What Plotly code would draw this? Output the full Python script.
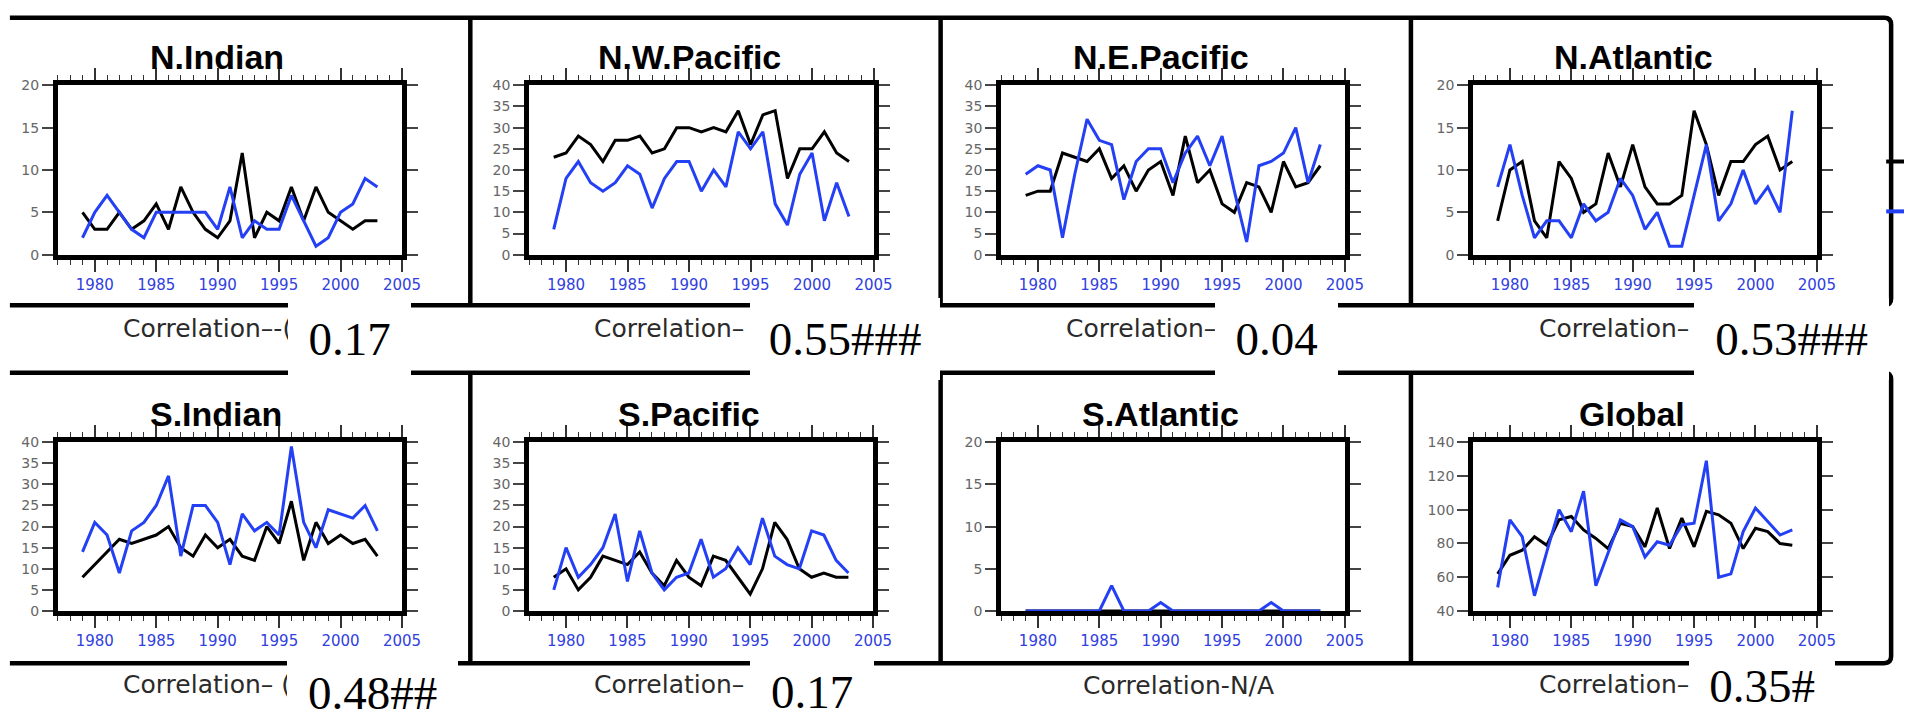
import plotly.graph_objects as go

# ---------------- data ----------------
years = [1979, 1980, 1981, 1982, 1983, 1984, 1985, 1986, 1987, 1988, 1989, 1990,
         1991, 1992, 1993, 1994, 1995, 1996, 1997, 1998, 1999, 2000, 2001, 2002, 2003]

panel_names = ["N.Indian", "N.W.Pacific", "N.E.Pacific", "N.Atlantic",
               "S.Indian", "S.Pacific", "S.Atlantic", "Global"]

n_indian_black = [5, 3, 3, 5, 3, 4, 6, 3, 8, 5, 3, 2, 4, 12, 2, 5, 4, 8, 4, 8, 5, 4, 3, 4, 4]
n_indian_blue = [2, 5, 7, 5, 3, 2, 5, 5, 5, 5, 5, 3, 8, 2, 4, 3, 3, 7, 4, 1, 2, 5, 6, 9, 8]

nw_pacific_black = [23, 24, 28, 26, 22, 27, 27, 28, 24, 25, 30, 30, 29, 30, 29, 34, 26, 33, 34, 18, 25, 25, 29, 24, 22]
nw_pacific_blue = [6, 18, 22, 17, 15, 17, 21, 19, 11, 18, 22, 22, 15, 20, 16, 29, 25, 29, 12, 7, 19, 24, 8, 17, 9]

ne_pacific_black = [14, 15, 15, 24, 23, 22, 25, 18, 21, 15, 20, 22, 14, 28, 17, 20, 12, 10, 17, 16, 10, 22, 16, 17, 21]
ne_pacific_blue = [19, 21, 20, 4, 19, 32, 27, 26, 13, 22, 25, 25, 17, 24, 28, 21, 28, 15, 3, 21, 22, 24, 30, 17, 26]

n_atlantic_black = [4, 10, 11, 4, 2, 11, 9, 5, 6, 12, 8, 13, 8, 6, 6, 7, 17, 13, 7, 11, 11, 13, 14, 10, 11]
n_atlantic_blue = [8, 13, 7, 2, 4, 4, 2, 6, 4, 5, 9, 7, 3, 5, 1, 1, 7, 13, 4, 6, 10, 6, 8, 5, 17]

s_indian_black = [8, 11, 14, 17, 16, 17, 18, 20, 15, 13, 18, 15, 17, 13, 12, 20, 16, 26, 12, 21, 16, 18, 16, 17, 13]
s_indian_blue = [14, 21, 18, 9, 19, 21, 25, 32, 13, 25, 25, 21, 11, 23, 19, 21, 18, 39, 21, 15, 24, 23, 22, 25, 19]

s_pacific_black = [8, 10, 5, 8, 13, 12, 11, 14, 9, 6, 12, 8, 6, 13, 12, 8, 4, 10, 21, 17, 10, 8, 9, 8, 8]
s_pacific_blue = [5, 15, 8, 11, 15, 23, 7, 19, 9, 5, 8, 9, 17, 8, 10, 15, 11, 22, 13, 11, 10, 19, 18, 12, 9]

s_atlantic_black = [0, 0, 0, 0, 0, 0, 0, 0, 0, 0, 0, 0, 0, 0, 0, 0, 0, 0, 0, 0, 0, 0, 0, 0, 0]
s_atlantic_blue = [0, 0, 0, 0, 0, 0, 0, 3, 0, 0, 0, 1, 0, 0, 0, 0, 0, 0, 0, 0, 1, 0, 0, 0, 0]

global_black = [62, 73, 76, 84, 79, 94, 96, 88, 83, 77, 92, 90, 78, 101, 77, 95, 78, 99, 97, 92, 77, 89, 87, 80, 79]
global_blue = [54, 94, 84, 49, 75, 100, 87, 111, 55, 75, 94, 90, 72, 81, 79, 91, 92, 129, 60, 62, 87, 101, 93, 85, 88]

y_ranges = [[0, 20], [0, 40], [0, 40], [0, 20], [0, 40], [0, 40], [0, 20], [40, 140]]
y_dticks = [5, 5, 5, 5, 5, 5, 5, 20]
x_ticks = [1980, 1985, 1990, 1995, 2000, 2005]

corr_labels = ["Correlation\u2013-(", "Correlation\u2013", "Correlation\u2013", "Correlation\u2013",
               "Correlation\u2013 (", "Correlation\u2013", "Correlation-N/A", "Correlation\u2013"]
corr_values = ["0.17", "0.55###", "0.04", "0.53###", "0.48##", "0.17", None, "0.35#"]

black_series = [n_indian_black, nw_pacific_black, ne_pacific_black, n_atlantic_black,
                s_indian_black, s_pacific_black, s_atlantic_black, global_black]
blue_series = [n_indian_blue, nw_pacific_blue, ne_pacific_blue, n_atlantic_blue,
               s_indian_blue, s_pacific_blue, s_atlantic_blue, global_blue]

# ---------------- layout helpers (pixel -> paper) ----------------
W, H = 1923, 721


def fx(x):
    return x / W


def fy(y):
    return 1 - y / H


# plot frames (pixels): x-left, x-right, y-top, y-bottom
frames = [(58.5, 406, 79, 252.3), (534.4, 882.3, 79, 252.3), (1011.1, 1358.3, 79, 252.3), (1487.8, 1835, 79, 252.3),
          (58.5, 406, 444, 616.7), (534.5, 881.7, 444, 616.7), (1011.1, 1358.3, 444, 616.7), (1487.8, 1835, 444, 616.7)]
title_pos = [(219, 50), (696, 50), (1173, 50), (1650, 50),
             (218, 415), (696, 415), (1172, 415), (1648, 415)]
corr_pos = [(122, 328), (598, 328), (1075, 328), (1552, 328),
            (122, 692), (598, 692), (1092, 693), (1552, 692)]
# white boxes: x0, x1, y0, y1
boxes = [(291, 414, 298, 380), (758, 948, 298, 380), (1228, 1351, 298, 380), (1712, 1907, 298, 380),
         (291, 462, 665, 737), (758, 882, 665, 735), None, (1707, 1853, 665, 721)]

BLUE = "#2440f5"
FRAME_W = 5
BOX_W = 4.5
fig = go.Figure()

for i in range(8):
    xa = "x" if i == 0 else f"x{i + 1}"
    ya = "y" if i == 0 else f"y{i + 1}"
    fig.add_trace(go.Scatter(x=years, y=black_series[i], mode="lines", xaxis=xa, yaxis=ya,
                             line=dict(color="black", width=3), hoverinfo="skip"))
    fig.add_trace(go.Scatter(x=years, y=blue_series[i], mode="lines", xaxis=xa, yaxis=ya,
                             line=dict(color=BLUE, width=3), hoverinfo="skip"))

layout = dict(width=W, height=H, margin=dict(l=0, r=0, t=0, b=0, pad=0),
              paper_bgcolor="white", plot_bgcolor="white", showlegend=False)

for i in range(8):
    x0, x1, y0, y1 = frames[i]
    xa_name = "xaxis" if i == 0 else f"xaxis{i + 1}"
    ya_name = "yaxis" if i == 0 else f"yaxis{i + 1}"
    anchor_x = "y" if i == 0 else f"y{i + 1}"
    anchor_y = "x" if i == 0 else f"x{i + 1}"
    layout[xa_name] = dict(
        domain=[fx(x0), fx(x1)], anchor=anchor_x, range=[1977, 2005.001],
        tickmode="array", tickvals=x_ticks, ticks="outside", ticklen=12, tickwidth=1.6, tickcolor="#333",
        showline=True, linewidth=FRAME_W, linecolor="black", mirror="allticks",
        showgrid=False, zeroline=False,
        tickfont=dict(family="DejaVu Sans", size=15, color="#3040e0"),
        minor=dict(dtick=1, tick0=1977, ticks="outside", ticklen=5, tickwidth=1.4, tickcolor="#333", showgrid=False),
        fixedrange=True)
    layout[ya_name] = dict(
        domain=[fy(y1), fy(y0)], anchor=anchor_y, range=[y_ranges[i][0], y_ranges[i][1] + 0.001 * y_dticks[i]],
        tickmode="linear", tick0=y_ranges[i][0], dtick=y_dticks[i],
        ticks="outside", ticklen=11, tickwidth=1.6, tickcolor="#444",
        showline=True, linewidth=FRAME_W, linecolor="black", mirror="allticks",
        showgrid=False, zeroline=False,
        tickfont=dict(family="DejaVu Sans", size=14, color="#666666"),
        fixedrange=True)

shapes = []


def line(xa, ya, xb, yb, color="black", width=BOX_W):
    shapes.append(dict(type="line", xref="paper", yref="paper",
                       x0=fx(xa), y0=fy(ya), x1=fx(xb), y1=fy(yb),
                       line=dict(color=color, width=width), layer="above"))


def row_path(top, bottom):
    r = 7
    p = (f"M {fx(10)},{fy(top)} L {fx(1910 - r)},{fy(top)} "
         f"Q {fx(1910)},{fy(top)} {fx(1910)},{fy(top + r)} "
         f"L {fx(1910)},{fy(bottom - r)} "
         f"Q {fx(1910)},{fy(bottom)} {fx(1910 - r)},{fy(bottom)} "
         f"L {fx(10)},{fy(bottom)}")
    shapes.append(dict(type="path", xref="paper", yref="paper", path=p,
                       line=dict(color="black", width=BOX_W), layer="above"))


row_path(10, 304)
row_path(373, 670)
for xv in (475, 950, 1425):
    line(xv, 10, xv, 304)
    line(xv, 373, xv, 670)

# cut-off legend pieces at the right edge
line(1905, 157, 1923, 157, color="black", width=4)
line(1905, 208, 1923, 208, color=BLUE, width=4)

annotations = []
for i in range(8):
    tx, ty = title_pos[i]
    annotations.append(dict(xref="paper", yref="paper", x=fx(tx), y=fy(ty), xanchor="center", yanchor="middle",
                            text=f"<b>{panel_names[i]}</b>", showarrow=False,
                            font=dict(family="Liberation Sans", size=34, color="black")))
    cx, cy = corr_pos[i]
    annotations.append(dict(xref="paper", yref="paper", x=fx(cx), y=fy(cy), xanchor="left", yanchor="middle",
                            text=corr_labels[i], showarrow=False,
                            font=dict(family="DejaVu Sans", size=25, color="#2a2a2a")))

for i in range(8):
    b = boxes[i]
    if b is None:
        continue
    bx0, bx1, by0, by1 = b
    annotations.append(dict(xref="paper", yref="paper", x=fx((bx0 + bx1) / 2), y=fy((by0 + by1) / 2),
                            xanchor="center", yanchor="middle", width=bx1 - bx0, height=by1 - by0,
                            bgcolor="white", borderpad=0, borderwidth=0, align="center", valign="middle",
                            text=corr_values[i], showarrow=False,
                            font=dict(family="Liberation Serif", size=47, color="black")))

layout["shapes"] = shapes
layout["annotations"] = annotations
fig.update_layout(**layout)

fig.write_html("out.html")
